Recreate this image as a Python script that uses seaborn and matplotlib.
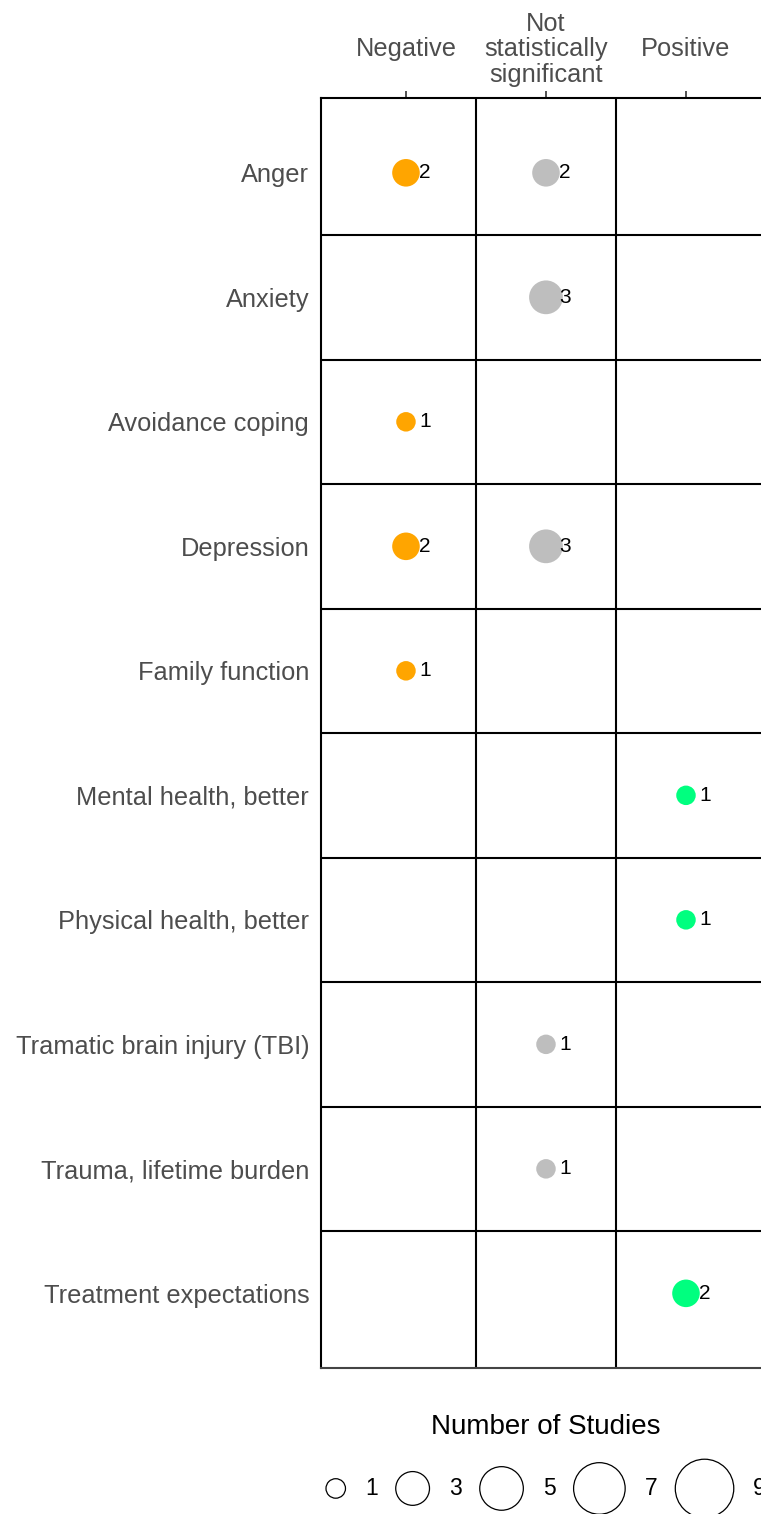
import matplotlib
matplotlib.use("Agg")
import matplotlib.pyplot as plt
import seaborn as sns
import pandas as pd
from matplotlib.patches import Circle
from matplotlib.offsetbox import DrawingArea, TextArea, HPacker, VPacker, AnchoredOffsetbox

# categories
outcomes = ["Anger", "Anxiety", "Avoidance coping", "Depression", "Family function",
            "Mental health, better", "Physical health, better", "Tramatic brain injury (TBI)",
            "Trauma, lifetime burden", "Treatment expectations"]
directions = ["Negative", "Not statistically significant", "Positive"]
direction_labels = ["Negative", "Not\nstatistically\nsignificant", "Positive"]
direction_colors = ["#FFA500", "#BEBEBE", "#00FF7F"]

# one entry per bubble
point_outcome = ["Anger", "Anger", "Anxiety", "Avoidance coping", "Depression", "Depression",
                 "Family function", "Mental health, better", "Physical health, better",
                 "Tramatic brain injury (TBI)", "Trauma, lifetime burden", "Treatment expectations"]
point_direction = ["Negative", "Not statistically significant", "Not statistically significant",
                   "Negative", "Negative", "Not statistically significant", "Negative",
                   "Positive", "Positive", "Not statistically significant",
                   "Not statistically significant", "Positive"]
point_studies = [2, 2, 3, 1, 2, 3, 1, 1, 1, 1, 1, 2]

legend_studies = [1, 3, 5, 7, 9]

AREA_PER_STUDY = 197  # marker area (pt^2) for one study

df = pd.DataFrame({
    "outcome": pd.Categorical(point_outcome, categories=outcomes),
    "direction": pd.Categorical(point_direction, categories=directions),
    "studies": point_studies,
})

sns.set_style("white")
plt.rcParams["font.family"] = ["Liberation Sans", "DejaVu Sans"]

fig = plt.figure(figsize=(7.61, 15.14), dpi=100)
ax = fig.add_axes([0.4218, 0.0964, 0.5913, 0.8388])

sns.scatterplot(data=df, x="direction", y="outcome", hue="direction", size="studies",
                palette=dict(zip(directions, direction_colors)),
                sizes={n: AREA_PER_STUDY * n for n in sorted(set(point_studies))},
                linewidth=0, legend=False, ax=ax, zorder=3)

# count labels next to each bubble
for o, d, n in zip(point_outcome, point_direction, point_studies):
    ax.annotate(str(n), xy=(ax.xaxis.convert_units(d), ax.yaxis.convert_units(o)),
                xytext=(9.5, 0), textcoords="offset points", ha="left", va="center",
                fontsize=15, color="black", zorder=4)

ax.set_xlim(-0.607, len(directions) - 1 + 0.607)
ax.set_ylim(len(outcomes) - 1 + 0.6, -0.6)

# cell borders
for i in range(len(outcomes) - 1):
    ax.axhline(i + 0.5, color="black", lw=1.5, zorder=1)
for j in range(len(directions) - 1):
    ax.axvline(j + 0.5, color="black", lw=1.5, zorder=1)

ax.set_xticks(range(len(directions)), direction_labels)
ax.set_yticks(range(len(outcomes)), outcomes)
ax.set_xlabel("")
ax.set_ylabel("")
ax.xaxis.tick_top()
ax.tick_params(axis="both", length=5, width=1.2, color="#333333",
               labelsize=18.3, labelcolor="#4D4D4D")
ax.tick_params(axis="y", pad=3.5)
ax.tick_params(axis="x", pad=30)
for lab in ax.get_xticklabels():
    lab.set_va("center")
    lab.set_linespacing(1.07)

ax.spines["right"].set_visible(False)
for side in ["top", "left"]:
    ax.spines[side].set_color("black")
    ax.spines[side].set_linewidth(1.5)
ax.spines["bottom"].set_color("#444444")
ax.spines["bottom"].set_linewidth(1.5)

# size legend
keys = []
for n in legend_studies:
    dm = (AREA_PER_STUDY * n) ** 0.5
    da = DrawingArea(dm, dm, 0, 0)
    da.add_artist(Circle((dm / 2, dm / 2), dm / 2, fc="white", ec="black", lw=0.9))
    txt = TextArea(str(n), textprops=dict(fontsize=16.5, color="black"))
    keys.append(HPacker(children=[da, txt], align="center", pad=0, sep=14))
row = HPacker(children=keys, align="center", pad=0, sep=13)
title = TextArea("Number of Studies", textprops=dict(fontsize=20, color="black"))
box = VPacker(children=[title, row], align="center", pad=0, sep=14)
legend_box = AnchoredOffsetbox(loc="upper center", child=box, pad=0, borderpad=0,
                               frameon=False, bbox_to_anchor=(0.5, -0.036),
                               bbox_transform=ax.transAxes)
ax.add_artist(legend_box)

fig.savefig("out.png", dpi=100)
